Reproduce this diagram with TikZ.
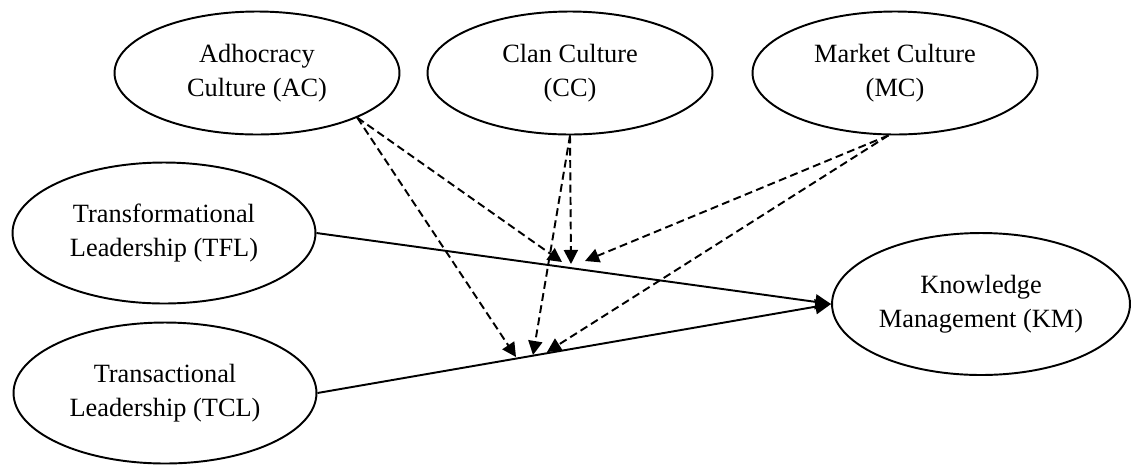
\documentclass[tikz,border=0pt]{standalone}
\usepackage{fontspec}
\setmainfont{Liberation Serif}
\usetikzlibrary{positioning, arrows.meta, shapes.geometric}

\begin{document}
\begin{tikzpicture}[
    x=0.02cm, y=-0.02cm,  % one unit = one pixel of the layout, y downwards
    % Styles
    construct/.style={ellipse, draw=black, line width=1.1pt, align=center, inner sep=0pt, font=\fontsize{15}{19.5}\selectfont},
    culture/.style={construct, minimum width=5.7cm, minimum height=2.46cm},
    leader/.style={construct, minimum width=6.06cm, minimum height=2.82cm},
    effect-arrow/.style={-{Triangle[length=9pt, width=8.5pt]}, line width=1.1pt},
    moderate-arrow/.style={-{Triangle[length=8pt, width=8pt]}, line width=1.1pt, dash pattern=on 4.5pt off 2.5pt},
]
\useasboundingbox (0,0) rectangle (1131,464);

% Organisational culture (moderators)
\node[culture] (ac) at (257,73) {Adhocracy\\Culture (AC)};
\node[culture] (cc) at (570,73) {Clan Culture\\(CC)};
\node[culture] (mc) at (895,73) {Market Culture\\(MC)};

% Leadership styles
\node[leader] (tfl) at (164,233) {Transformational\\Leadership (TFL)};
\node[leader] (tcl) at (165,393) {Transactional\\Leadership (TCL)};

% Outcome
\node[construct, minimum width=5.96cm, minimum height=2.84cm] (km) at (981,304) {Knowledge\\Management (KM)};

% Direct effects
\draw[effect-arrow] (tfl.east) -- (km.west);
\draw[effect-arrow] (tcl.east) -- (km.west);

% Points where the moderators meet the paths
\coordinate (tfl-ac) at (562,262);
\coordinate (tfl-cc) at (571,264);
\coordinate (tfl-mc) at (585,261);
\coordinate (tcl-ac) at (516,357);
\coordinate (tcl-cc) at (533,355);
\coordinate (tcl-mc) at (547,352);

% Moderating effects
\draw[moderate-arrow] (ac.-24) -- (tfl-ac);
\draw[moderate-arrow] (ac.-24) -- (tcl-ac);
\draw[moderate-arrow] (cc.south) -- (tfl-cc);
\draw[moderate-arrow] (cc.south) -- (tcl-cc);
\draw[moderate-arrow] (mc.-96) -- (tfl-mc);
\draw[moderate-arrow] (mc.-96) -- (tcl-mc);

\end{tikzpicture}
\end{document}
